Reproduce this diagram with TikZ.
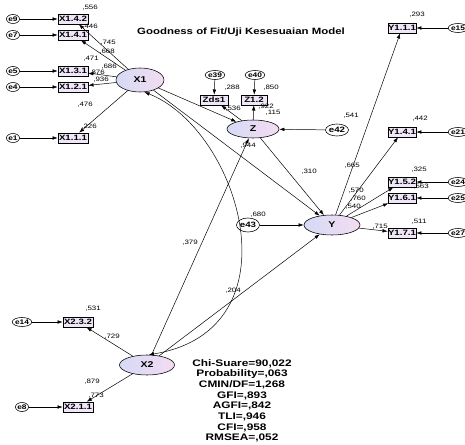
\documentclass[tikz,border=0pt]{standalone}
\usepackage{fontspec}
\setmainfont{Liberation Sans}[FakeStretch=1.25]
\usetikzlibrary{arrows.meta,shapes.geometric}
\definecolor{latleft}{HTML}{D6DAF6}
\definecolor{latright}{HTML}{F3DCF1}
\definecolor{boxfill}{HTML}{EFE7F7}
\tikzset{
	latent/.style={ellipse,draw,line width=0.8pt,left color=latleft,right color=latright,inner sep=0pt,font=\fontsize{12}{12}\selectfont\bfseries},
	observed/.style={rectangle,draw,line width=0.8pt,fill=boxfill,minimum width=15mm,minimum height=5mm,inner sep=0pt,font=\fontsize{11}{11}\selectfont\bfseries},
	err/.style={ellipse,draw,line width=0.8pt,fill=white,minimum width=6.5mm,minimum height=4.5mm,inner sep=0pt,font=\fontsize{9.5}{9.5}\selectfont\bfseries},
	coef/.style={inner sep=0pt,font=\fontsize{9}{9}\selectfont},
	arr/.style={-{Latex[length=2.6mm,width=1.8mm]},line width=0.7pt},
	cov/.style={{Latex[length=2.6mm,width=1.8mm]}-{Latex[length=2.6mm,width=1.8mm]},line width=0.7pt}
}

\begin{document}
\begin{tikzpicture}[x=0.5mm,y=-0.5mm]
	\clip (0,0) rectangle (465,445);
	\node[font=\fontsize{13}{13}\selectfont\bfseries] (title) at (241,32) {Goodness of Fit/Uji Kesesuaian Model};
	\node[latent,minimum width=24mm,minimum height=12mm] (X1) at (140,80) {X1};
	\node[latent,minimum width=26mm,minimum height=9mm] (Z) at (253,129) {Z};
	\node[latent,minimum width=28mm,minimum height=10mm] (Y) at (332,225) {Y};
	\node[latent,minimum width=27.5mm,minimum height=10mm] (X2) at (147,365) {X2};
	\node[observed] (x142) at (73,19) {X1.4.2};
	\node[observed] (x141) at (73,35) {X1.4.1};
	\node[observed] (x131) at (73,71) {X1.3.1};
	\node[observed] (x121) at (73,87) {X1.2.1};
	\node[observed] (x111) at (73,138) {X1.1.1};
	\node[err] (e9) at (13,19) {e9};
	\node[err] (e7) at (13,35) {e7};
	\node[err] (e5) at (13,71) {e5};
	\node[err] (e4) at (13,87) {e4};
	\node[err] (e1) at (13,138) {e1};
	\node[observed,minimum width=14mm] (zds1) at (214,100) {Zds1};
	\node[observed,minimum width=13mm] (z12) at (254,100) {Z1.2};
	\node[err] (e39) at (215,75) {e39};
	\node[err] (e40) at (255,75) {e40};
	\node[err,minimum width=11.5mm,minimum height=6mm,font=\fontsize{11}{11}\selectfont\bfseries] (e42) at (337,130) {e42};
	\node[err,minimum width=11.5mm,minimum height=7mm,font=\fontsize{11}{11}\selectfont\bfseries] (e43) at (248,225) {e43};
	\node[observed,minimum width=14mm] (y111) at (402,28) {Y1.1.1};
	\node[observed,minimum width=14mm] (y141) at (402,132) {Y1.4.1};
	\node[observed,minimum width=14mm] (y152) at (402,182) {Y1.5.2};
	\node[observed,minimum width=14mm] (y161) at (402,198) {Y1.6.1};
	\node[observed,minimum width=14mm] (y171) at (402,233) {Y1.7.1};
	\node[err] (e15) at (458,28) {e15};
	\node[err] (e21) at (458,132) {e21};
	\node[err] (e24) at (458,182) {e24};
	\node[err] (e25) at (458,198) {e25};
	\node[err] (e27) at (458,233) {e27};
	\node[observed] (x232) at (78,322) {X2.3.2};
	\node[observed] (x211) at (78,407) {X2.1.1};
	\node[err] (e14) at (22,322) {e14};
	\node[err] (e8) at (22,407) {e8};
	\draw[arr] (e9) -- (x142);
	\draw[arr] (e7) -- (x141);
	\draw[arr] (e5) -- (x131);
	\draw[arr] (e4) -- (x121);
	\draw[arr] (e1) -- (x111);
	\draw[arr] (X1) -- (x142);
	\draw[arr] (X1) -- (x141);
	\draw[arr] (X1) -- (x131);
	\draw[arr] (X1) -- (x121);
	\draw[arr] (X1) -- (x111);
	\draw[arr] (e39) -- (zds1);
	\draw[arr] (e40) -- (z12);
	\draw[arr] (Z) -- (zds1);
	\draw[arr] (Z) -- (z12);
	\draw[arr] (e42) -- (Z);
	\draw[arr] (X1) -- (Z);
	\draw[arr] (X1) -- (Y);
	\draw[arr] (X2) -- (Z);
	\draw[arr] (X2) -- (Y);
	\draw[arr] (Z) -- (Y);
	\draw[arr] (e43) -- (Y);
	\draw[cov] (X1.-70) .. controls (240,130) and (300,330) .. (X2.80);
	\draw[arr] (Y) -- (y111);
	\draw[arr] (Y) -- (y141);
	\draw[arr] (Y) -- (y152);
	\draw[arr] (Y) -- (y161);
	\draw[arr] (Y) -- (y171);
	\draw[arr] (e15) -- (y111);
	\draw[arr] (e21) -- (y141);
	\draw[arr] (e24) -- (y152);
	\draw[arr] (e25) -- (y161);
	\draw[arr] (e27) -- (y171);
	\draw[arr] (X2) -- (x232);
	\draw[arr] (X2) -- (x211);
	\draw[arr] (e14) -- (x232);
	\draw[arr] (e8) -- (x211);
	\node[coef] (r142) at (90,8) {,556};
	\node[coef] (r141) at (90,26.5) {,446};
	\node[coef] (l142) at (108,43) {,745};
	\node[coef] (l141) at (107,52) {,668};
	\node[coef] (r131) at (91,59) {,471};
	\node[coef] (l131) at (109,67) {,686};
	\node[coef] (r121) at (97,73) {,876};
	\node[coef] (l121) at (101,80) {,936};
	\node[coef] (l111) at (85,105) {,476};
	\node[coef] (r111) at (89,127) {,226};
	\node[coef] (rzds) at (232,88) {,288};
	\node[coef] (rz12) at (271,88) {,850};
	\node[coef] (lzds) at (233,109) {,536};
	\node[coef] (lz12) at (266,107) {,922};
	\node[coef] (rz) at (273,113) {,115};
	\node[coef] (bx2z) at (248,146) {,944};
	\node[coef] (bzy) at (309,172) {,310};
	\node[coef] (ry) at (258,215) {,680};
	\node[coef] (bx2y) at (233,291) {,204};
	\node[coef] (cx) at (190,243) {,379};
	\node[coef] (l111y) at (351,116) {,541};
	\node[coef] (r111y) at (417,15) {,293};
	\node[coef] (r141y) at (420,119) {,442};
	\node[coef] (l141y) at (352,166) {,665};
	\node[coef] (r152y) at (419,170) {,325};
	\node[coef] (r161y) at (421,187) {,563};
	\node[coef] (l152y) at (356,191) {,570};
	\node[coef] (l161y) at (358,199) {,760};
	\node[coef] (rY) at (353,207) {,540};
	\node[coef] (l171y) at (380,227) {,715};
	\node[coef] (r171y) at (419,222) {,511};
	\node[coef] (r232) at (93,309) {,531};
	\node[coef] (l232) at (112,337) {,729};
	\node[coef] (l211) at (92,382) {,879};
	\node[coef] (r211) at (96,396) {,773};
	\node[align=center,anchor=north,inner sep=0pt,font=\fontsize{13.5}{15.2}\selectfont\bfseries] (fit) at (242,359) {Chi-Suare=90,022\\Probability=,063\\CMIN/DF=1,268\\GFI=,893\\AGFI=,842\\TLI=,946\\CFI=,958\\RMSEA=,052};
\end{tikzpicture}
\end{document}
